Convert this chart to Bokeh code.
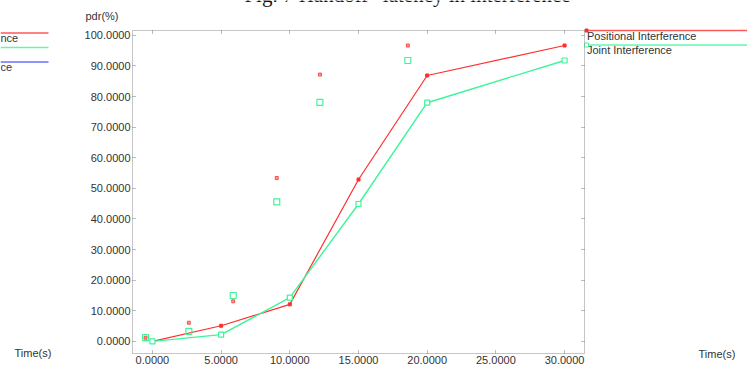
from bokeh.plotting import figure
from bokeh.layouts import column
from bokeh.models import Range1d, LinearAxis, FixedTicker, PrintfTickFormatter, GridBox
from bokeh.core.properties import value
from bokeh.embed import file_html
from bokeh.resources import INLINE

# ---- data ----
time_s = [0, 5, 10, 15, 20, 30]
positional = [0.0, 5.1, 12.1, 52.9, 86.9, 96.7]
joint = [0.0, 2.2, 14.3, 44.9, 78.0, 91.8]
shifted_time = [-0.5, 2.65, 5.88, 9.05, 12.19, 18.59]
positional_shifted = [1.2, 6.1, 13.1, 53.4, 87.2, 96.7]
joint_shifted = [1.2, 3.3, 15.0, 45.6, 78.1, 91.8]
x_ticks = [0, 5, 10, 15, 20, 25, 30]
y_ticks = [0, 10, 20, 30, 40, 50, 60, 70, 80, 90, 100]
series_names = ["Positional Interference", "Joint Interference"]
title_text = "Fig. 7 Handoff\u201d latency in interference"
y_label = "pdr(%)"
x_label = "Time(s)"

RED = "#ff2e2e"
GREEN = "#3cf59a"
BLUE = "#4a4aff"
TXT = "#333333"
FONT = "Liberation Sans"

# ---- layout ----
W, H = 747, 369
L, R, T, B = 132, 163, 30, 16
X0, X1 = -1.45, 31.45
Y0, Y1 = -3.96, 101.6

# ---------- background page (texts and legend outside the plot frame) ----------
bg = figure(width=W, height=H, output_backend="svg", toolbar_location=None,
            x_range=Range1d(0, W), y_range=Range1d(H, 0),
            x_axis_type=None, y_axis_type=None, min_border=0,
            background_fill_color="white", border_fill_color="white")
bg.outline_line_color = None
bg.grid.visible = False


def txt(px, py, s, size="11px", font=FONT, align="left", color=TXT):
    bg.text(x=[px], y=[py], text=[s], text_font=value(font), text_font_size=size,
            text_color=color, text_align=align, text_baseline="alphabetic")


# title (cut at the top edge, as in the reference)
txt(407, -5.5, title_text, size="21px", font="Liberation Serif", align="center", color="#111111")
# axis captions
txt(85, 15.5, y_label)
txt(698, 353, x_label)
txt(14, 352, x_label)

# legend on the right
bg.segment(x0=[585, 585], y0=[30, 44.5], x1=[W, W], y1=[30, 44.5],
           line_color=[RED, GREEN], line_width=1.5, line_alpha=0.8)
bg.scatter(x=[586], y=[30], marker="square", size=3, color=RED)
bg.scatter(x=[586], y=[44.5], marker="square", size=4, fill_color="white", line_color=GREEN)
txt(586.5, 35, series_names[0])
txt(586.5, 49.5, series_names[1])

# clipped legend of the neighbouring chart on the left
bg.segment(x0=[0, 0, 0], y0=[32.5, 47, 61.5], x1=[48, 48, 48], y1=[32.5, 47, 61.5],
           line_color=[RED, GREEN, BLUE], line_width=1.5, line_alpha=0.8)
txt(0, 37.5, "nce")
txt(0, 66.5, "ce")

# ---------- main chart ----------
p = figure(width=W, height=H, output_backend="svg", toolbar_location=None,
           x_range=Range1d(X0, X1), y_range=Range1d(Y0, Y1),
           x_axis_type=None, y_axis_type=None,
           min_border_left=L, min_border_right=R, min_border_top=T, min_border_bottom=B,
           background_fill_color=None, border_fill_color=None)
p.outline_line_color = "#8c8c8c"
p.outline_line_dash = "1 1"
p.outline_line_width = 1


def make_axis(ticks, labels):
    ax = LinearAxis(ticker=FixedTicker(ticks=ticks),
                    formatter=PrintfTickFormatter(format="%.4f"))
    ax.axis_line_color = None
    ax.major_tick_in = 4
    ax.major_tick_out = 0
    ax.major_tick_line_color = "#7a7a7a"
    ax.major_tick_line_dash = "1 1"
    ax.minor_tick_line_color = None
    ax.major_label_text_font = FONT
    ax.major_label_text_font_size = "11px"
    ax.major_label_text_color = TXT
    ax.major_label_standoff = 2
    if not labels:
        ax.major_label_overrides = {t: "" for t in ticks}
        ax.major_label_standoff = 0
    return ax


p.add_layout(make_axis(x_ticks, True), "below")
p.add_layout(make_axis(y_ticks, True), "left")
p.add_layout(make_axis(x_ticks, False), "above")
p.add_layout(make_axis(y_ticks, False), "right")

p.line(time_s, positional, line_color=RED, line_width=1.2)
p.scatter(time_s, positional, marker="square", size=3, color=RED)
p.line(time_s, joint, line_color=GREEN, line_width=1.4)
p.scatter(time_s, joint, marker="square", size=5, fill_color="white", line_color=GREEN, line_width=1.2)

p.scatter(shifted_time, positional_shifted, marker="square", size=3, fill_color="#ff9a9a",
          line_color=RED, line_width=0.8)
p.scatter(shifted_time, joint_shifted, marker="square", size=6, fill_color=None,
          line_color=GREEN, line_width=1.2)

# both canvases share one grid cell: the chart lies over the page background
page = GridBox(children=[(column(bg), 0, 0), (column(p), 0, 0)])

open("out.html", "w").write(file_html(page, INLINE))
